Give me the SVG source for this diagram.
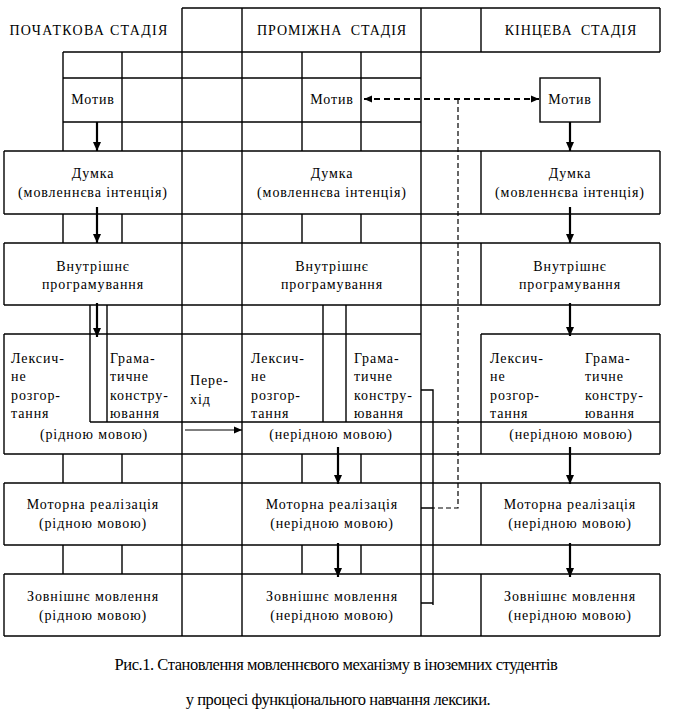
<svg xmlns="http://www.w3.org/2000/svg" width="676" height="724" viewBox="0 0 676 724">
<style>
.ln{stroke:#000;stroke-width:1.4;fill:none}
.bx{stroke:#000;stroke-width:1.4;fill:none}
.t{font-size:14px;letter-spacing:0.9px;fill:#000}
.c{text-anchor:middle}
.h{word-spacing:4px}
.hd{letter-spacing:1.3px}
.cap{font-size:16.5px;letter-spacing:-0.45px;fill:#000;text-anchor:middle}
.ar{stroke:#000;stroke-width:2.2;fill:none;marker-end:url(#ah)}
.thin{stroke:#000;stroke-width:1.2;fill:none;marker-end:url(#ahs)}
.dh{stroke:#000;stroke-width:2;stroke-dasharray:6,4;fill:none}
.dv{stroke:#000;stroke-width:1.2;stroke-dasharray:5,3;fill:none}
</style>
<defs>
<marker id="ah" markerUnits="userSpaceOnUse" markerWidth="10" markerHeight="10" refX="9" refY="4" orient="auto">
<path d="M0,0 L9,4 L0,8 Z" fill="#000"/>
</marker>
<marker id="ahs" markerUnits="userSpaceOnUse" markerWidth="10" markerHeight="10" refX="8" refY="4" orient="auto">
<path d="M0,0.5 L8,4 L0,7.5 Z" fill="#000"/>
</marker>
<marker id="ahd" markerUnits="userSpaceOnUse" markerWidth="10" markerHeight="10" refX="8" refY="4" orient="auto-start-reverse">
<path d="M0,0.5 L8,4 L0,7.5 Z" fill="#000"/>
</marker>
</defs>
<rect width="676" height="724" fill="#fff"/>

<g id="grid">
<line class="ln" x1="182" y1="8" x2="660" y2="8"/>
<line class="ln" x1="63" y1="52" x2="660" y2="52"/>
<line class="ln" x1="481" y1="8" x2="481" y2="52"/>
<line class="ln" x1="660" y1="8" x2="660" y2="52"/>
<line class="ln" x1="182" y1="8" x2="182" y2="636"/>
<line class="ln" x1="242" y1="8" x2="242" y2="636"/>
<line class="ln" x1="421" y1="8" x2="421" y2="636"/>
<line class="ln" x1="63" y1="78" x2="421" y2="78"/>
<line class="ln" x1="63" y1="122" x2="421" y2="122"/>
<line class="ln" x1="63" y1="52" x2="63" y2="151"/>
<line class="ln" x1="122" y1="52" x2="122" y2="151"/>
<line class="ln" x1="302" y1="52" x2="302" y2="151"/>
<line class="ln" x1="361" y1="52" x2="361" y2="151"/>
<line class="ln" x1="4" y1="151" x2="660" y2="151"/>
<line class="ln" x1="4" y1="214" x2="660" y2="214"/>
<line class="ln" x1="4" y1="243" x2="660" y2="243"/>
<line class="ln" x1="4" y1="305" x2="660" y2="305"/>
<line class="ln" x1="4" y1="483" x2="660" y2="483"/>
<line class="ln" x1="4" y1="545" x2="660" y2="545"/>
<line class="ln" x1="4" y1="574" x2="660" y2="574"/>
<line class="ln" x1="4" y1="636" x2="660" y2="636"/>
<line class="ln" x1="4" y1="151" x2="4" y2="214"/>
<line class="ln" x1="481" y1="151" x2="481" y2="214"/>
<line class="ln" x1="660" y1="151" x2="660" y2="214"/>
<line class="ln" x1="4" y1="243" x2="4" y2="305"/>
<line class="ln" x1="481" y1="243" x2="481" y2="305"/>
<line class="ln" x1="660" y1="243" x2="660" y2="305"/>
<line class="ln" x1="4" y1="483" x2="4" y2="545"/>
<line class="ln" x1="481" y1="483" x2="481" y2="545"/>
<line class="ln" x1="660" y1="483" x2="660" y2="545"/>
<line class="ln" x1="4" y1="574" x2="4" y2="636"/>
<line class="ln" x1="481" y1="574" x2="481" y2="636"/>
<line class="ln" x1="660" y1="574" x2="660" y2="636"/>
<path class="ln" d="M63,214V243M122,214V243M302,214V243M361,214V243"/>
<path class="ln" d="M63,454V483M122,454V483M302,454V483M361,454V483"/>
<path class="ln" d="M63,545V574M122,545V574M302,545V574M361,545V574"/>
<line class="ln" x1="4" y1="334" x2="421" y2="334"/>
<line class="ln" x1="481" y1="334" x2="660" y2="334"/>
<line class="ln" x1="4" y1="334" x2="4" y2="454"/>
<line class="ln" x1="90" y1="305" x2="90" y2="422"/>
<line class="ln" x1="107" y1="305" x2="107" y2="422"/>
<line class="ln" x1="323" y1="305" x2="323" y2="422"/>
<line class="ln" x1="346" y1="305" x2="346" y2="422"/>
<line class="ln" x1="481" y1="334" x2="481" y2="454"/>
<line class="ln" x1="660" y1="334" x2="660" y2="454"/>
<line class="ln" x1="90" y1="422" x2="660" y2="422"/>
<line class="ln" x1="4" y1="454" x2="660" y2="454"/>
</g>

<g font-family="'Liberation Serif', 'DejaVu Serif', serif">
<g id="header-initial"><text class="t c hd" x="89" y="35">ПОЧАТКОВА СТАДІЯ</text></g>
<g id="header-middle"><text class="t c h" x="332" y="35">ПРОМІЖНА СТАДІЯ</text></g>
<g id="header-final"><text class="t c h" x="571" y="35">КІНЦЕВА СТАДІЯ</text></g>

<g id="motive-1"><text class="t c" x="93" y="104">Мотив</text></g>
<g id="motive-2"><text class="t c" x="332" y="104">Мотив</text></g>
<g id="motive-3"><rect class="bx" x="540" y="78" width="60" height="44"/><text class="t c" x="570" y="104">Мотив</text></g>

<g id="thought-1"><text class="t c" x="93" y="178">Думка</text><text class="t c" x="93" y="197">(мовленнєва інтенція)</text></g>
<g id="thought-2"><text class="t c" x="332" y="178">Думка</text><text class="t c" x="332" y="197">(мовленнєва інтенція)</text></g>
<g id="thought-3"><text class="t c" x="570" y="178">Думка</text><text class="t c" x="570" y="197">(мовленнєва інтенція)</text></g>

<g id="program-1"><text class="t c" x="93" y="271">Внутрішнє</text><text class="t c" x="93" y="289">програмування</text></g>
<g id="program-2"><text class="t c" x="332" y="271">Внутрішнє</text><text class="t c" x="332" y="289">програмування</text></g>
<g id="program-3"><text class="t c" x="570" y="271">Внутрішнє</text><text class="t c" x="570" y="289">програмування</text></g>

<g id="lex-1"><text class="t" x="11" y="363">Лексич-</text><text class="t" x="11" y="381">не</text><text class="t" x="11" y="400">розгор-</text><text class="t" x="11" y="418">тання</text></g>
<g id="gram-1"><text class="t" x="110" y="363">Грама-</text><text class="t" x="110" y="381">тичне</text><text class="t" x="110" y="400">констру-</text><text class="t" x="110" y="418">ювання</text></g>
<g id="lang-1"><text class="t c" x="94" y="439">(рідною мовою)</text></g>
<g id="transition"><text class="t" x="190" y="385">Пере-</text><text class="t" x="190" y="404">хід</text></g>
<g id="lex-2"><text class="t" x="251" y="363">Лексич-</text><text class="t" x="251" y="381">не</text><text class="t" x="251" y="400">розгор-</text><text class="t" x="251" y="418">тання</text></g>
<g id="gram-2"><text class="t" x="354" y="363">Грама-</text><text class="t" x="354" y="381">тичне</text><text class="t" x="354" y="400">констру-</text><text class="t" x="354" y="418">ювання</text></g>
<g id="lang-2"><text class="t c" x="331" y="439">(нерідною мовою)</text></g>
<g id="lex-3"><text class="t" x="490" y="363">Лексич-</text><text class="t" x="490" y="381">не</text><text class="t" x="490" y="400">розгор-</text><text class="t" x="490" y="418">тання</text></g>
<g id="gram-3"><text class="t" x="585" y="363">Грама-</text><text class="t" x="585" y="381">тичне</text><text class="t" x="585" y="400">констру-</text><text class="t" x="585" y="418">ювання</text></g>
<g id="lang-3"><text class="t c" x="571" y="439">(нерідною мовою)</text></g>

<g id="motor-1"><text class="t c" x="93" y="509">Моторна реалізація</text><text class="t c" x="93" y="528">(рідною мовою)</text></g>
<g id="motor-2"><text class="t c" x="332" y="509">Моторна реалізація</text><text class="t c" x="332" y="528">(нерідною мовою)</text></g>
<g id="motor-3"><text class="t c" x="570" y="509">Моторна реалізація</text><text class="t c" x="570" y="528">(нерідною мовою)</text></g>

<g id="speech-1"><text class="t c" x="93" y="601">Зовнішнє мовлення</text><text class="t c" x="93" y="620">(рідною мовою)</text></g>
<g id="speech-2"><text class="t c" x="332" y="601">Зовнішнє мовлення</text><text class="t c" x="332" y="620">(нерідною мовою)</text></g>
<g id="speech-3"><text class="t c" x="570" y="601">Зовнішнє мовлення</text><text class="t c" x="570" y="620">(нерідною мовою)</text></g>

<g id="caption">
<text class="cap" x="336" y="670">Рис.1. Становлення мовленнєвого механізму в іноземних студентів</text>
<text class="cap" x="338" y="705">у процесі функціонального навчання лексики.</text>
</g>
</g>

<g id="connectors">
<line class="ar" x1="97" y1="122" x2="97" y2="151"/>
<line class="ar" x1="97" y1="207" x2="97" y2="243"/>
<line class="ar" x1="97" y1="303" x2="97" y2="337"/>
<line class="ar" x1="570" y1="122" x2="570" y2="151"/>
<line class="ar" x1="570" y1="207" x2="570" y2="243"/>
<line class="ar" x1="570" y1="303" x2="570" y2="336"/>
<line class="ar" x1="570" y1="447" x2="570" y2="484"/>
<line class="ar" x1="570" y1="543" x2="570" y2="577"/>
<line class="ar" x1="338" y1="447" x2="338" y2="484"/>
<line class="ar" x1="338" y1="543" x2="338" y2="577"/>
<line class="thin" x1="185" y1="430" x2="242" y2="430"/>
<line class="dh" x1="364" y1="99" x2="539" y2="99" marker-start="url(#ahd)" marker-end="url(#ahd)"/>
<path class="dv" d="M458,99V508H433"/>
<path class="ln" d="M421,390H433V605M421,508H433M421,603H433"/>
</g>
</svg>
